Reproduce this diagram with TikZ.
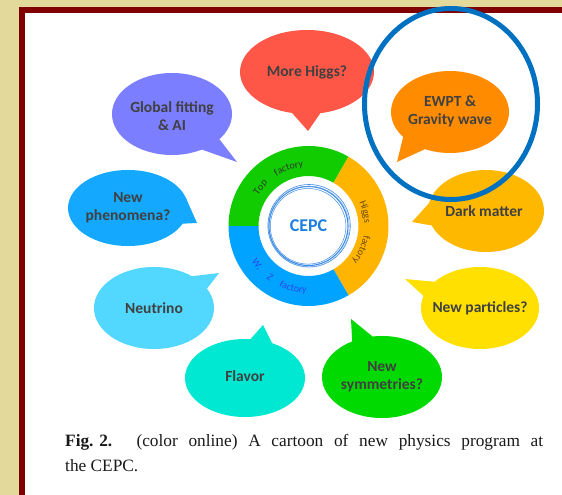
\documentclass[tikz,border=0pt]{standalone}
\usepackage{fontspec}
\setmainfont{Liberation Serif}
\newfontfamily\bubfam{Carlito}
\usetikzlibrary{shapes.geometric,decorations.text}
\definecolor{tanbg}{HTML}{E3D99B}
\definecolor{framered}{HTML}{800000}
\definecolor{cred}{HTML}{FF5747}
\definecolor{cpurple}{HTML}{7B7EFF}
\definecolor{cblue}{HTML}{14A8FF}
\definecolor{cneut}{HTML}{52D8FF}
\definecolor{cflav}{HTML}{00E8D2}
\definecolor{cgreen}{HTML}{00DA00}
\definecolor{cyellow}{HTML}{FFE000}
\definecolor{cdark}{HTML}{FFB800}
\definecolor{cewpt}{HTML}{FF8C00}
\definecolor{circblue}{HTML}{0070C0}
\definecolor{txtgray}{HTML}{404040}
\definecolor{ringgreen}{HTML}{11CC00}
\definecolor{ringorange}{HTML}{FFB400}
\definecolor{ringblue}{HTML}{00A3FF}
\definecolor{cepcblue}{HTML}{1F7FE0}
\definecolor{sketchblue}{HTML}{3A8AE6}
\definecolor{wzblue}{HTML}{2A48E8}
\definecolor{higgsbrown}{HTML}{6B4A10}
\definecolor{topdark}{HTML}{2E3A2E}
\newcommand\ringfont{\bubfam\fontsize{10}{10}\selectfont}
\begin{document}
\begin{tikzpicture}[x=1pt,y=1pt,
  bubble/.style={ellipse, inner sep=0pt, outer sep=0pt},
  btext/.style={font=\bubfam\bfseries\fontsize{15.5}{18}\selectfont, text=txtgray, align=center, inner sep=0pt},
  capline/.style={anchor=base west, inner sep=0pt, font=\fontsize{17.3}{25}\selectfont, text=black!90}]
\useasboundingbox (0,0) rectangle (562,-495);
% frame
\fill[tanbg] (0,0) rectangle (562,-495);
\fill[framered] (19,-7) rectangle (562,-495);
\fill[white] (25,-13) rectangle (562,-495);

% bubbles
\node[bubble, fill=cred, minimum width=134pt, minimum height=84pt] (higgs) at (307,-72) {};
\coordinate (higgstip) at (308,-131);
\fill[cred] (higgs.-110) -- (higgstip) -- (higgs.-72) -- cycle;
\node[btext] (higgst) at (307,-72) {More Higgs?};

\node[bubble, fill=cpurple, minimum width=120pt, minimum height=82pt] (glob) at (172,-114) {};
\coordinate (globtip) at (237,-162);
\fill[cpurple] (glob.-28) -- (globtip) -- (glob.-50) -- cycle;
\node[btext] (globt) at (172,-116) {Global fitting\\\& AI};

\node[bubble, fill=cblue, minimum width=120pt, minimum height=76pt] (phen) at (128,-208) {};
\coordinate (phentip) at (197,-223);
\fill[cblue] (phen.10) -- (phentip) -- (phen.-16) -- cycle;
\node[btext] (phent) at (128,-208) {New\\phenomena?};

\node[bubble, fill=cneut, minimum width=120pt, minimum height=82pt] (neut) at (154,-308) {};
\coordinate (neuttip) at (219,-273);
\fill[cneut] (neut.40) -- (neuttip) -- (neut.20) -- cycle;
\node[btext] (neutt) at (154,-308) {Neutrino};

\node[bubble, fill=cflav, minimum width=120pt, minimum height=78pt] (flav) at (245,-378) {};
\coordinate (flavtip) at (263,-325);
\fill[cflav] (flav.82) -- (flavtip) -- (flav.52) -- cycle;
\node[btext] (flavt) at (245,-376) {Flavor};

\node[bubble, fill=cgreen, minimum width=120pt, minimum height=82pt] (sym) at (382,-377) {};
\coordinate (symtip) at (351,-319);
\fill[cgreen] (sym.130) -- (symtip) -- (sym.103) -- cycle;
\node[btext] (symt) at (382,-377) {New\\symmetries?};

\node[bubble, fill=cyellow, minimum width=118pt, minimum height=82pt] (part) at (480,-308) {};
\coordinate (parttip) at (405,-279);
\fill[cyellow] (part.150) -- (parttip) -- (part.168) -- cycle;
\node[btext] (partt) at (480,-308) {New particles?};

\node[bubble, fill=cdark, minimum width=116pt, minimum height=82pt] (dark) at (486,-211) {};
\coordinate (darktip) at (412,-222);
\fill[cdark] (dark.172) -- (darktip) -- (dark.195) -- cycle;
\node[btext] (darkt) at (484,-211) {Dark matter};

\node[bubble, fill=cewpt, minimum width=118pt, minimum height=82pt] (ewpt) at (450,-112) {};
\coordinate (ewpttip) at (397,-162);
\fill[cewpt] (ewpt.208) -- (ewpttip) -- (ewpt.236) -- cycle;
\node[btext] (ewptt) at (450,-111) {EWPT \&\\Gravity wave};

% central ring
\coordinate (ringc) at (308.5,-226);
\begin{scope}[shift={(308.5,-226)}]
\fill[ringgreen] (60:80) arc[start angle=60,end angle=180,radius=80] -- (180:50) arc[start angle=180,end angle=60,radius=50] -- cycle;
\fill[ringorange] (-60:80) arc[start angle=-60,end angle=60,radius=80] -- (60:50) arc[start angle=60,end angle=-60,radius=50] -- cycle;
\fill[ringblue] (180:80) arc[start angle=180,end angle=300,radius=80] -- (300:50) arc[start angle=300,end angle=180,radius=50] -- cycle;
\draw[sketchblue, line width=1.1pt] (0,0) circle[radius=39.5];
\draw[sketchblue, line width=0.6pt] (0.6,0.3) circle[radius=41.2];
\draw[sketchblue, line width=0.5pt] (-0.4,-0.3) circle[radius=37.8];
\draw[sketchblue!70, line width=0.4pt] (0.3,-0.6) circle[radius=40.5];
\path[decorate, decoration={text along path, text align=center, text color=topdark, text={|\ringfont|Top}}] (163:59) arc[start angle=163, end angle=119, radius=59];
\path[decorate, decoration={text along path, text align=center, text color=topdark, text={|\ringfont|factory}}] (136:59) arc[start angle=136, end angle=82, radius=59];
\path[decorate, decoration={text along path, text align=center, text color=higgsbrown, text={|\ringfont|Higgs}}] (41:56) arc[start angle=41, end angle=-13, radius=56];
\path[decorate, decoration={text along path, text align=center, text color=higgsbrown, text={|\ringfont|factory}}] (3:56) arc[start angle=3, end angle=-51, radius=56];
\path[decorate, decoration={text along path, text align=center, text color=wzblue, text={|\ringfont|W,}}] (205:67) arc[start angle=205, end angle=229, radius=67];
\path[decorate, decoration={text along path, text align=center, text color=wzblue, text={|\ringfont|Z}}] (223:67) arc[start angle=223, end angle=243, radius=67];
\path[decorate, decoration={text along path, text align=center, text color=wzblue, text={|\ringfont|factory}}] (229:67) arc[start angle=229, end angle=283, radius=67];
\end{scope}
\node[font=\bubfam\bfseries\fontsize{18}{18}\selectfont, text=cepcblue, inner sep=0pt] (cepc) at (ringc) {CEPC};

% highlight circle
\draw[circblue, line width=5pt] (451,-104) ellipse[x radius=86.5, y radius=95.5];

% caption
\node[capline] (cap1) at (65,-446) {\makebox[478pt][s]{\mbox{\textbf{Fig. 2.}}\hspace{1.4em}(color online) A cartoon of new physics program at}};
\node[capline] (cap2) at (65,-471) {the CEPC.};
\end{tikzpicture}
\end{document}
